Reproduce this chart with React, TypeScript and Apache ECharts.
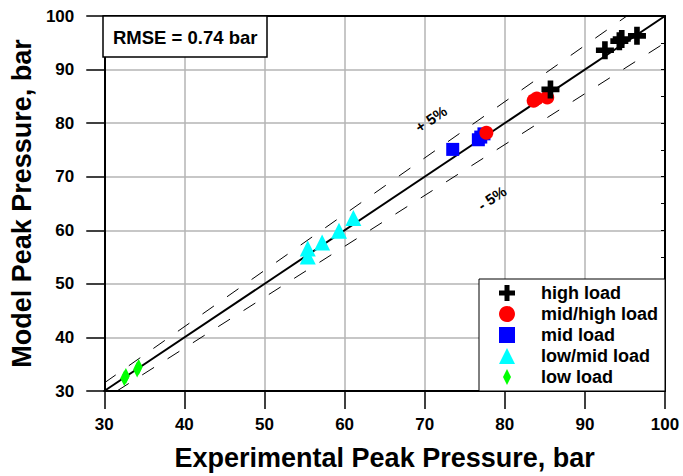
import React, { useEffect, useRef } from "react";
import * as echarts from "echarts";

const highX = [85.7, 92.5, 94.3, 94.6, 96.5];
const highY = [86.3, 93.6, 95.3, 95.7, 96.3];
const midHighX = [77.7, 83.6, 84.0, 85.3];
const midHighY = [78.2, 84.2, 84.6, 84.8];
const midX = [73.5, 76.7, 77.0, 77.4];
const midY = [75.1, 76.9, 77.4, 78.0];
const lowMidX = [55.4, 55.4, 57.2, 59.3, 61.1];
const lowMidY = [55.1, 56.6, 57.7, 59.9, 62.3];
const lowX = [32.5, 32.7, 34.1, 34.3];
const lowY = [32.4, 32.8, 34.0, 34.5];

const axisMin = 30;
const axisMax = 100;
const tolerance = 0.05;
const rmseText = "RMSE = 0.74 bar";
const seriesNames = ["high load", "mid/high load", "mid load", "low/mid load", "low load"];

const FONT = "'Liberation Sans', Arial, sans-serif";
const PLUS = "path://M5.5,0H10.5V5.5H16V10.5H10.5V16H5.5V10.5H0V5.5H5.5Z";
const DIAMOND = "path://M4,0L8,8L4,16L0,8Z";

const zip = (xs: number[], ys: number[]) => xs.map((x, i) => [x, ys[i]]);

export default function App() {
  const ref = useRef<HTMLDivElement>(null);
  useEffect(() => {
    const chart = echarts.init(ref.current!, null, { renderer: "svg" });
    const up = 1 + tolerance;
    const dn = 1 - tolerance;
    const option: any = {
      animation: false,
      backgroundColor: "#fff",
      grid: { left: 103, top: 16, width: 562, height: 375 },
      xAxis: [
        {
          type: "value",
          min: axisMin,
          max: axisMax,
          interval: 10,
          name: "Experimental Peak Pressure, bar",
          nameLocation: "middle",
          nameGap: 53,
          nameTextStyle: { fontFamily: FONT, fontWeight: "bold", fontSize: 27, color: "#000" },
          axisLine: { lineStyle: { color: "#000", width: 2 } },
          axisTick: { inside: false, length: 18, lineStyle: { color: "#000", width: 1.5 } },
          axisLabel: { margin: 25, fontFamily: FONT, fontWeight: "bold", fontSize: 17, color: "#000" },
          splitLine: { show: true, lineStyle: { color: "#b4b4b4", width: 1.5 } },
        },
        {
          type: "value",
          position: "top",
          min: axisMin,
          max: axisMax,
          interval: 10,
          axisLine: { show: true, lineStyle: { color: "#000", width: 2 } },
          axisTick: { show: false },
          axisLabel: { show: false },
          splitLine: { show: false },
        },
      ],
      yAxis: [
        {
          type: "value",
          min: axisMin,
          max: axisMax,
          interval: 10,
          name: "Model Peak Pressure, bar",
          nameLocation: "middle",
          nameGap: 61,
          nameTextStyle: { fontFamily: FONT, fontWeight: "bold", fontSize: 27, color: "#000" },
          axisLine: { show: true, lineStyle: { color: "#000", width: 2 } },
          axisTick: { show: true, inside: false, length: 18, lineStyle: { color: "#000", width: 1.5 } },
          axisLabel: { margin: 30, fontFamily: FONT, fontWeight: "bold", fontSize: 17, color: "#000" },
          splitLine: { show: true, lineStyle: { color: "#b4b4b4", width: 1.5 } },
        },
        {
          type: "value",
          position: "right",
          min: axisMin,
          max: axisMax,
          interval: 5,
          axisLine: { show: true, lineStyle: { color: "#000", width: 2 } },
          axisTick: { show: true, inside: true, length: 4, lineStyle: { color: "#000", width: 1 } },
          axisLabel: { show: false },
          splitLine: { show: false },
        },
      ],
      legend: {
        orient: "vertical",
        left: 494,
        top: 278,
        itemWidth: 16,
        itemHeight: 16,
        itemGap: 1,
        selectedMode: false,
        textStyle: { fontFamily: FONT, fontWeight: "bold", fontSize: 18, color: "#000", lineHeight: 20, padding: [0, 0, 0, 21] },
        data: [
          { name: "high load", icon: PLUS },
          { name: "mid/high load", icon: "circle" },
          { name: "mid load", icon: "rect" },
          { name: "low/mid load", icon: "triangle" },
          { name: "low load", icon: DIAMOND },
        ],
        z: 20,
      },
      graphic: [
        {
          type: "rect",
          z: 10,
          shape: { x: 103, y: 16, width: 164, height: 41 },
          style: { fill: "#fff", stroke: "#000", lineWidth: 1.5 },
        },
        {
          type: "text",
          z: 11,
          x: 113,
          y: 37,
          style: { text: rmseText, font: "bold 18.5px " + FONT, fill: "#000", verticalAlign: "middle" },
        },
        {
          type: "rect",
          z: 10,
          shape: { x: 479, y: 279, width: 186, height: 112 },
          style: { fill: "#fff", stroke: "#000", lineWidth: 1 },
        },
        {
          type: "text",
          z: 11,
          x: 431,
          y: 119,
          rotation: 0.59,
          style: { text: "+ 5%", font: "bold 15px " + FONT, fill: "#000", align: "center", verticalAlign: "middle" },
        },
        {
          type: "text",
          z: 11,
          x: 492,
          y: 198,
          rotation: 0.59,
          style: { text: "- 5%", font: "bold 15px " + FONT, fill: "#000", align: "center", verticalAlign: "middle" },
        },
      ],
      series: [
        {
          type: "line",
          data: [[axisMin, axisMin], [axisMax, axisMax]],
          symbol: "none",
          lineStyle: { color: "#000", width: 2 },
          silent: true,
          z: 1,
        },
        {
          type: "line",
          data: [[axisMin, axisMin * up], [axisMax / up, axisMax]],
          symbol: "none",
          lineStyle: { color: "#000", width: 1, type: [14, 16] },
          silent: true,
          z: 1,
        },
        {
          type: "line",
          data: [[axisMin / dn, axisMin], [axisMax, axisMax * dn]],
          symbol: "none",
          lineStyle: { color: "#000", width: 1, type: [14, 16] },
          silent: true,
          z: 1,
        },
        {
          name: seriesNames[4],
          type: "scatter",
          data: zip(lowX, lowY),
          symbol: DIAMOND,
          symbolSize: [8, 16],
          symbolKeepAspect: false,
          itemStyle: { color: "#00ff00", opacity: 1 },
          z: 3,
        },
        {
          name: seriesNames[3],
          type: "scatter",
          data: zip(lowMidX, lowMidY),
          symbol: "triangle",
          symbolSize: 16,
          itemStyle: { color: "#00ffff", opacity: 1 },
          z: 3,
        },
        {
          name: seriesNames[2],
          type: "scatter",
          data: zip(midX, midY),
          symbol: "rect",
          symbolSize: 13,
          itemStyle: { color: "#0000ff", opacity: 1 },
          z: 3,
        },
        {
          name: seriesNames[1],
          type: "scatter",
          data: zip(midHighX, midHighY),
          symbol: "circle",
          symbolSize: 14,
          itemStyle: { color: "#ff0000", opacity: 1 },
          z: 3,
        },
        {
          name: seriesNames[0],
          type: "scatter",
          data: zip(highX, highY),
          symbol: PLUS,
          symbolSize: 18,
          itemStyle: { color: "#000", opacity: 1 },
          z: 4,
        },
      ],
    };
    chart.setOption(option);
    return () => chart.dispose();
  }, []);
  return <div ref={ref} style={{ position: "absolute", left: 0, top: 0, width: 683, height: 476 }} />;
}
